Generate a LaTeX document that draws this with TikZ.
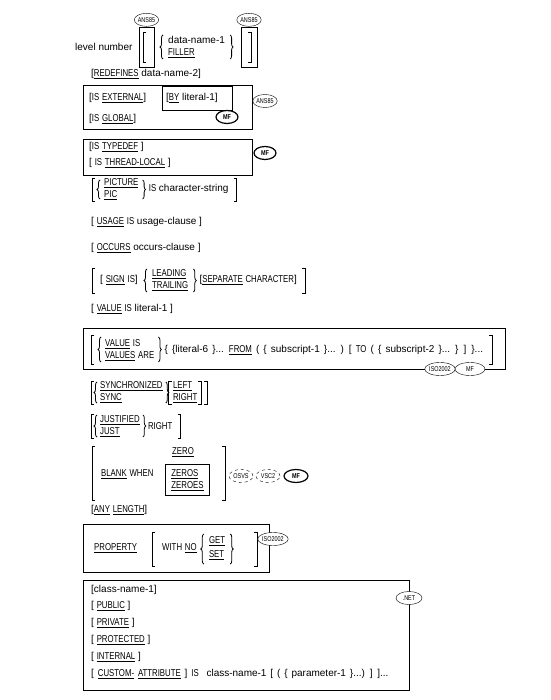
\documentclass[tikz,border=0pt]{standalone}
\usepackage{fontspec}
\setmainfont{Liberation Sans}
\newfontfamily\capsfont{Liberation Sans}[FakeStretch=0.78]
\usetikzlibrary{shapes.geometric,decorations.pathreplacing,positioning,calc}
\newcommand\txtfont{\fontsize{10}{12}\selectfont}
\newcommand\widefont[1]{\txtfont\spaceskip=#1 plus 1pt\relax}
\newcommand\tagfont{\capsfont\fontsize{7}{7}\selectfont}
\newcommand\kw[1]{\underline{\capsfont #1}}
\newcommand\cw[1]{{\capsfont #1}}
% brackets and braces: [shift]{x from}{top}{bottom}
\newcommand\sqL[4][0]{\draw[brk] ($(#2 |- 0,#3)+(#1+3,0)$) -- ($(#2 |- 0,#3)+(#1,0)$) -- ($(#2 |- 0,#4)+(#1,0)$) -- ($(#2 |- 0,#4)+(#1+3,0)$);}
\newcommand\sqR[4][0]{\draw[brk] ($(#2 |- 0,#3)+(#1-3,0)$) -- ($(#2 |- 0,#3)+(#1,0)$) -- ($(#2 |- 0,#4)+(#1,0)$) -- ($(#2 |- 0,#4)+(#1-3,0)$);}
\newcommand\cbL[4][0]{\draw[cbr] ($(#2 |- 0,#4)+(#1,0)$) -- ($(#2 |- 0,#3)+(#1,0)$);}
\newcommand\cbR[4][0]{\draw[cbr] ($(#2 |- 0,#3)+(#1,0)$) -- ($(#2 |- 0,#4)+(#1,0)$);}
\begin{document}
\begin{tikzpicture}[x=1pt,y=-1pt,
  txt/.style={anchor=west,inner sep=0pt,font=\txtfont,align=left},
  tag/.style={ellipse,draw,fill=white,inner sep=0pt,minimum width=24pt,minimum height=13pt,font=\tagfont},
  mftag/.style={tag,line width=1.2pt,minimum width=22pt,font=\tagfont\bfseries},
  frame/.style={draw,line width=0.9pt},
  brk/.style={line width=0.9pt},
  cbr/.style={line width=0.8pt,decorate,decoration={brace,amplitude=3pt}}]

	\useasboundingbox (0,0) rectangle (550,700);

	% level number
	\node[txt] (lvl) at (75,47) {level number};
	\node[frame,minimum width=15pt,minimum height=40pt,inner sep=0pt] (box-l) at (146.5,47) {};
	\node[frame,minimum width=16pt,minimum height=40pt,inner sep=0pt] (box-r) at (249,47) {};
	\foreach \b in {l,r} {
	\node[tag,above=0pt of box-\b] (ans-\b) {ANS85};
	}
	\sqL{143,0}{32}{62}
	\sqR{251,0}{32}{62}
	\node[txt] (dn) at (168,47) {data-name-1\\\kw{FILLER}};
	\cbL[-5]{dn.west}{35}{59}
	\cbR[5]{dn.east}{35}{59}

	\node[txt] (redef) at (91,74) {[\kw{REDEFINES} data-name-2]};

	% external / global
	\draw[frame] (83,85) rectangle (252,129);
	\node[txt] (ext) at (89,98) {[\cw{IS} \kw{EXTERNAL}]};
	\draw[frame] (162,86) rectangle (232,110);
	\node[txt] (by) at (166,98) {[\kw{BY} literal-1]};
	\node[txt] (glob) at (89,119) {[\cw{IS} \kw{GLOBAL}]};
	\node[mftag] (mf-1) at (227,117) {MF};
	\node[tag] (ans-e) at (265,101) {ANS85};

	% typedef
	\draw[frame] (83,139) rectangle (252,175);
	\node[txt] (tdef) at (89,147) {[\cw{IS} \kw{TYPEDEF} ]};
	\node[txt] (tloc) at (89,163) {[ \cw{IS} \kw{THREAD-LOCAL} ]};
	\node[mftag] (mf-2) at (265,153) {MF};

	% picture
	\sqL{92,0}{178}{201}
	\node[txt] (pic) at (104,189) {\kw{PICTURE}\\\kw{PIC}};
	\cbL[-4]{pic.west}{180}{199}
	\cbR[4]{pic.east}{180}{199}
	\node[txt,right=10pt of pic] (chs) {\cw{IS} character-string};
	\sqR[8]{chs.east}{178}{201}

	\node[txt] (usage) at (91,222) {[ \kw{USAGE} \cw{IS} usage-clause ]};
	\node[txt] (occ) at (91,248) {[ \kw{OCCURS} occurs-clause ]};

	% sign
	\sqL{92,0}{268}{293}
	\node[txt] (sign) at (100,280) {[ \kw{SIGN} \cw{IS}]};
	\node[txt,right=14pt of sign] (lead) {\kw{LEADING}\\\kw{TRAILING}};
	\cbL[-5]{lead.west}{269}{292}
	\cbR[5]{lead.east}{269}{292}
	\node[txt,right=11pt of lead] (sep) {[\kw{SEPARATE} \cw{CHARACTER}]};
	\sqR[8]{sep.east}{268}{293}

	\node[txt] (val) at (91,309) {[ \kw{VALUE} \cw{IS} literal-1 ]};

	% value table
	\draw[frame] (83,328) rectangle (505,369);
	\sqL{91,0}{335}{364}
	\node[txt] (vis) at (105,350) {\kw{VALUE} \cw{IS}\\\kw{VALUES} \cw{ARE}};
	\cbL[-4]{vis.west}{337}{362}
	\cbR[4]{vis.east}{337}{362}
	\node[txt,right=10pt of vis] (lit) {\widefont{4.1pt}\{ \{literal-6 \}... \kw{FROM} ( \{ subscript-1 \}... ) [ \cw{TO} ( \{ subscript-2 \}... \} ] \}...};
	\sqR{492,0}{335}{364}
	\node[tag,minimum width=30pt] (iso-1) at (440,369) {ISO2002};
	\node[tag,minimum width=30pt] (mf-3) at (470,369) {MF};

	% synchronized
	\sqL{91,0}{381}{404}
	\node[txt] (sync) at (100,392) {\kw{SYNCHRONIZED}\\\kw{SYNC}};
	\cbL[-3]{sync.west}{382}{403}
	\cbR[3]{sync.east}{382}{403}
	\node[txt,right=10pt of sync] (left) {\kw{LEFT}\\\kw{RIGHT}};
	\sqL[-4]{left.west}{381}{404}
	\sqR[4]{left.east}{381}{404}
	\sqR[10]{left.east}{381}{404}

	% justified
	\sqL{91,0}{414}{438}
	\node[txt] (just) at (100,426) {\kw{JUSTIFIED}\\\kw{JUST}};
	\cbL[-3]{just.west}{415}{437}
	\cbR[3]{just.east}{415}{437}
	\node[txt,right=8pt of just] (right) {\cw{RIGHT}};
	\sqR[8]{right.east}{414}{438}

	% blank when
	\sqL{92,0}{446}{500}
	\node[txt] (blank) at (101,474) {\kw{BLANK} \cw{WHEN}};
	\node[txt] (zero) at (172,452) {\kw{ZERO}};
	\node[txt,frame,inner xsep=6pt,inner ysep=5pt] (zeros) at (165,480) {\kw{ZEROS}\\\kw{ZEROES}};
	\sqR{225,0}{446}{500}
	\foreach \x / \t in {241/OSVS, 268/VSC2} {
	\node[tag,dashed,minimum width=24pt] (\t) at (\x,476) {\t};
	}
	\node[mftag,minimum width=24pt] (mf-4) at (296,476) {MF};

	\node[txt] (any) at (91,510) {[\kw{ANY} \kw{LENGTH}]};

	% property
	\draw[frame] (83,524) rectangle (269,572);
	\node[txt] (prop) at (94,548) {\kw{PROPERTY}};
	\sqL{152,0}{532}{566}
	\node[txt] (with) at (162,548) {\cw{WITH} \kw{NO}};
	\node[txt,right=12pt of with] (get) {\kw{GET}\\[2pt]\kw{SET}};
	\cbL[-5]{get.west}{534}{564}
	\cbR[5]{get.east}{534}{564}
	\sqR{257,0}{532}{566}
	\node[tag,minimum width=28pt] (iso-2) at (273,539) {ISO2002};

	% .net
	\draw[frame] (83,580) rectangle (409,690);
	\foreach \y / \t in {590/{[class-name-1]}, 606/{[ \kw{PUBLIC} ]}, 623/{[ \kw{PRIVATE} ]}, 640/{[ \kw{PROTECTED} ]}, 657/{[ \kw{INTERNAL} ]}} {
	\node[txt] (net-\y) at (91,\y) {\t};
	}
	\node[txt] (cust) at (91,674) {\widefont{3.9pt}[ \kw{CUSTOM-} \kw{ATTRIBUTE} ] \cw{IS} \ class-name-1 [ ( \{ parameter-1 \}...) ] ]...};
	\node[tag,minimum width=26pt] (net) at (409,598) {.NET};

\end{tikzpicture}
\end{document}
